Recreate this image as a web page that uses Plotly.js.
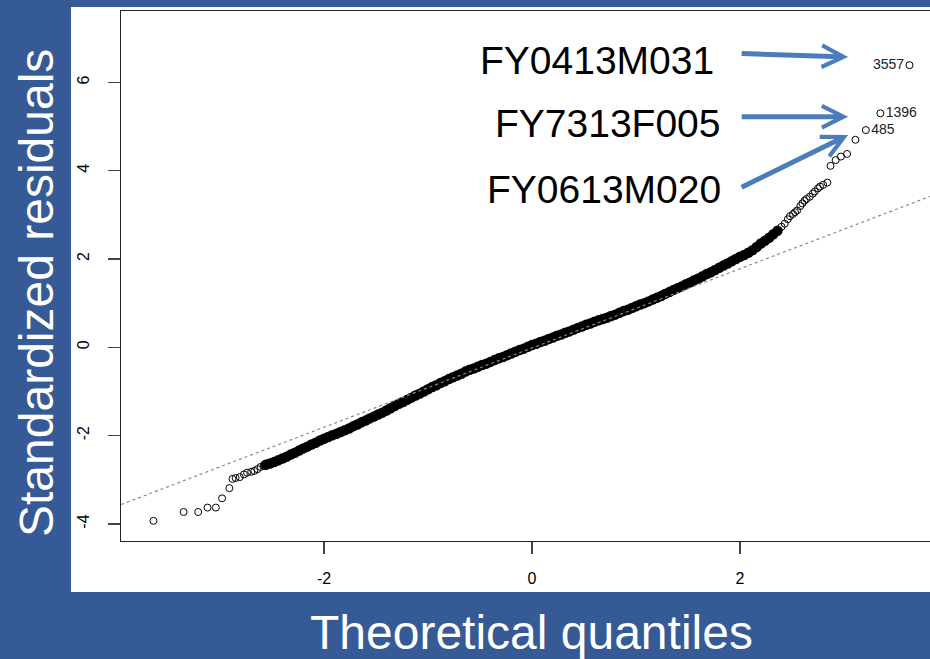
<!DOCTYPE html>
<html>
<head>
<meta charset="utf-8">
<script src="https://cdn.plot.ly/plotly-3.0.1.min.js"></script>
<style>html,body{margin:0;padding:0;background:#355a96;}#chart{width:930px;height:659px;}</style>
</head>
<body>
<div id="chart"></div>
<script>
// Dense central band of the normal Q-Q plot (theoretical quantile, standardized residual)
const bandX = [-2.56,-2.52,-2.48,-2.44,-2.40,-2.36,-2.32,-2.28,-2.24,-2.20,-2.16,-2.12,-2.08,-2.04,-2.00,-1.96,-1.92,-1.88,-1.84,-1.80,-1.76,-1.72,-1.68,-1.64,-1.60,-1.56,-1.52,-1.48,-1.44,-1.40,-1.36,-1.32,-1.28,-1.24,-1.20,-1.16,-1.12,-1.08,-1.04,-1.00,-0.96,-0.92,-0.88,-0.84,-0.80,-0.76,-0.72,-0.68,-0.64,-0.60,-0.56,-0.52,-0.48,-0.44,-0.40,-0.36,-0.32,-0.28,-0.24,-0.20,-0.16,-0.12,-0.08,-0.04,0.00,0.04,0.08,0.12,0.16,0.20,0.24,0.28,0.32,0.36,0.40,0.44,0.48,0.52,0.56,0.60,0.64,0.68,0.72,0.76,0.80,0.84,0.88,0.92,0.96,1.00,1.04,1.08,1.12,1.16,1.20,1.24,1.28,1.32,1.36,1.40,1.44,1.48,1.52,1.56,1.60,1.64,1.68,1.72,1.76,1.80,1.84,1.88,1.92,1.96,2.00,2.04,2.08,2.12,2.16,2.20,2.24,2.28,2.32,2.36];
const bandY = [-2.66,-2.63,-2.60,-2.56,-2.52,-2.48,-2.43,-2.39,-2.34,-2.29,-2.25,-2.20,-2.16,-2.11,-2.07,-2.03,-1.99,-1.96,-1.92,-1.88,-1.84,-1.79,-1.75,-1.70,-1.66,-1.61,-1.57,-1.52,-1.48,-1.43,-1.38,-1.33,-1.28,-1.24,-1.19,-1.14,-1.09,-1.05,-1.00,-0.95,-0.90,-0.86,-0.81,-0.77,-0.72,-0.68,-0.64,-0.60,-0.55,-0.51,-0.48,-0.44,-0.40,-0.37,-0.33,-0.29,-0.25,-0.22,-0.18,-0.14,-0.10,-0.06,-0.03,0.01,0.05,0.08,0.12,0.15,0.19,0.22,0.26,0.29,0.33,0.36,0.40,0.44,0.47,0.51,0.54,0.58,0.61,0.64,0.67,0.71,0.74,0.78,0.82,0.85,0.89,0.93,0.97,1.00,1.04,1.08,1.12,1.16,1.21,1.25,1.30,1.34,1.38,1.43,1.47,1.52,1.56,1.61,1.66,1.70,1.75,1.80,1.85,1.90,1.95,2.00,2.05,2.09,2.14,2.20,2.27,2.35,2.41,2.48,2.56,2.64];

// Individually visible points in the lower tail
const lowX = [-3.64,-3.35,-3.21,-3.12,-3.04,-2.98,-2.91,-2.88,-2.85,-2.81,-2.77,-2.74,-2.70,-2.67,-2.64,-2.61,-2.58];
const lowY = [-3.93,-3.73,-3.73,-3.63,-3.63,-3.42,-3.19,-2.98,-2.96,-2.94,-2.88,-2.84,-2.82,-2.80,-2.76,-2.71,-2.68];

// Individually visible points in the upper tail
const highX = [2.40,2.43,2.46,2.48,2.51,2.53,2.55,2.58,2.60,2.62,2.64,2.67,2.70,2.72,2.75,2.77,2.80,2.84,2.87,2.92,2.97,3.03,3.11,3.21,3.35,3.63];
const highY = [2.73,2.80,2.90,2.97,3.02,3.06,3.10,3.20,3.26,3.32,3.36,3.41,3.48,3.53,3.60,3.64,3.68,3.73,4.11,4.24,4.32,4.38,4.70,4.92,5.30,6.39];
const highLabels = ['','','','','','','','','','','','','','','','','','','','','','','','485','1396','3557'];
const highLabelPos = ['middle right','middle right','middle right','middle right','middle right','middle right','middle right','middle right','middle right','middle right','middle right','middle right','middle right','middle right','middle right','middle right','middle right','middle right','middle right','middle right','middle right','middle right','middle right','middle right','middle right','middle left'];

// Reference (qqline) end points
const refX = [-3.95, 3.83];
const refY = [-3.56, 3.42];

// Axis ticks
const xTicks = [-2, 0, 2];
const yTicks = [-4, -2, 0, 2, 4, 6];

// Callout labels for outlying observations
const calloutIds = ['FY0413M031', 'FY7313F005', 'FY0613M020'];

const FONT = 'Liberation Sans, Arial, Helvetica, sans-serif';
const openMarker = {symbol:'circle-open', size:7, color:'#000', line:{width:1, color:'#000'}};

const traces = [
  {x: bandX, y: bandY, mode:'markers', marker:{symbol:'circle', size:10.5, color:'#000', line:{width:0}}},
  {x: refX, y: refY, mode:'lines', line:{color:'#8a8a8a', width:1.2, dash:'dot'}, hoverinfo:'skip'},
  {x: lowX, y: lowY, mode:'markers', marker: openMarker},
  {x: highX, y: highY, mode:'markers+text', marker: openMarker, text: highLabels, textposition: highLabelPos,
   textfont:{family:FONT, size:14, color:'#222'}, cliponaxis:false}
];

const arrowColor = '#4a7dba';
const layout = {
  width:930, height:659,
  margin:{l:121, r:0, t:11, b:118, pad:0},
  paper_bgcolor:'#355a96', plot_bgcolor:'#ffffff',
  showlegend:false,
  font:{family:FONT},
  xaxis:{range:[-3.952,3.827], tickvals:xTicks, ticktext:xTicks.map(String), ticks:'outside', ticklen:12,
         tickcolor:'#444', tickwidth:1.3, showline:true, linecolor:'#222', linewidth:1.3, mirror:true,
         showgrid:false, zeroline:false, tickfont:{family:FONT, size:16, color:'#000'}, ticklabelstandoff:10},
  yaxis:{range:[-4.387,7.617], tickvals:yTicks, ticktext:yTicks.map(String), tickangle:-90, ticks:'outside', ticklen:12,
         tickcolor:'#444', tickwidth:1.3, showline:true, linecolor:'#222', linewidth:1.3, mirror:false,
         showgrid:false, zeroline:false, tickfont:{family:FONT, size:16, color:'#000'}, ticklabelstandoff:12},
  shapes:[{type:'rect', xref:'paper', yref:'paper', x0:-0.0618, x1:1.01, y0:-0.0962, y1:1.0075,
           fillcolor:'#ffffff', line:{width:0}, layer:'below'}],
  annotations:[
    {xref:'paper', yref:'paper', x:0.5068, y:-0.172, text:'Theoretical quantiles', showarrow:false,
     xanchor:'center', yanchor:'middle', font:{family:FONT, size:48, color:'#ffffff'}},
    {xref:'paper', yref:'paper', x:-0.1038, y:0.468, text:'Standardized residuals', showarrow:false, textangle:-90,
     xanchor:'center', yanchor:'middle', font:{family:FONT, size:48, color:'#ffffff'}},
    {xref:'x', yref:'y', x:1.769, y:6.507, text:calloutIds[0], showarrow:false, xanchor:'right', yanchor:'middle',
     font:{family:FONT, size:39, color:'#000'}},
    {xref:'x', yref:'y', x:1.837, y:5.058, text:calloutIds[1], showarrow:false, xanchor:'right', yanchor:'middle',
     font:{family:FONT, size:39, color:'#000'}},
    {xref:'x', yref:'y', x:1.837, y:3.585, text:calloutIds[2], showarrow:false, xanchor:'right', yanchor:'middle',
     font:{family:FONT, size:39, color:'#000'}},
    {xref:'x', yref:'y', x:3.04, y:6.575, text:'', showarrow:true, ax:-108, ay:-3.5,
     arrowcolor:arrowColor, arrowwidth:5, arrowhead:5, arrowsize:0.85},
    {xref:'x', yref:'y', x:3.04, y:5.223, text:'', showarrow:true, ax:-108, ay:0,
     arrowcolor:arrowColor, arrowwidth:5, arrowhead:5, arrowsize:0.85},
    {xref:'x', yref:'y', x:3.04, y:4.809, text:'', showarrow:true, ax:-108, ay:53,
     arrowcolor:arrowColor, arrowwidth:5, arrowhead:5, arrowsize:0.85}
  ]
};

Plotly.newPlot('chart', traces, layout, {staticPlot:true, displayModeBar:false});
</script>
</body>
</html>
